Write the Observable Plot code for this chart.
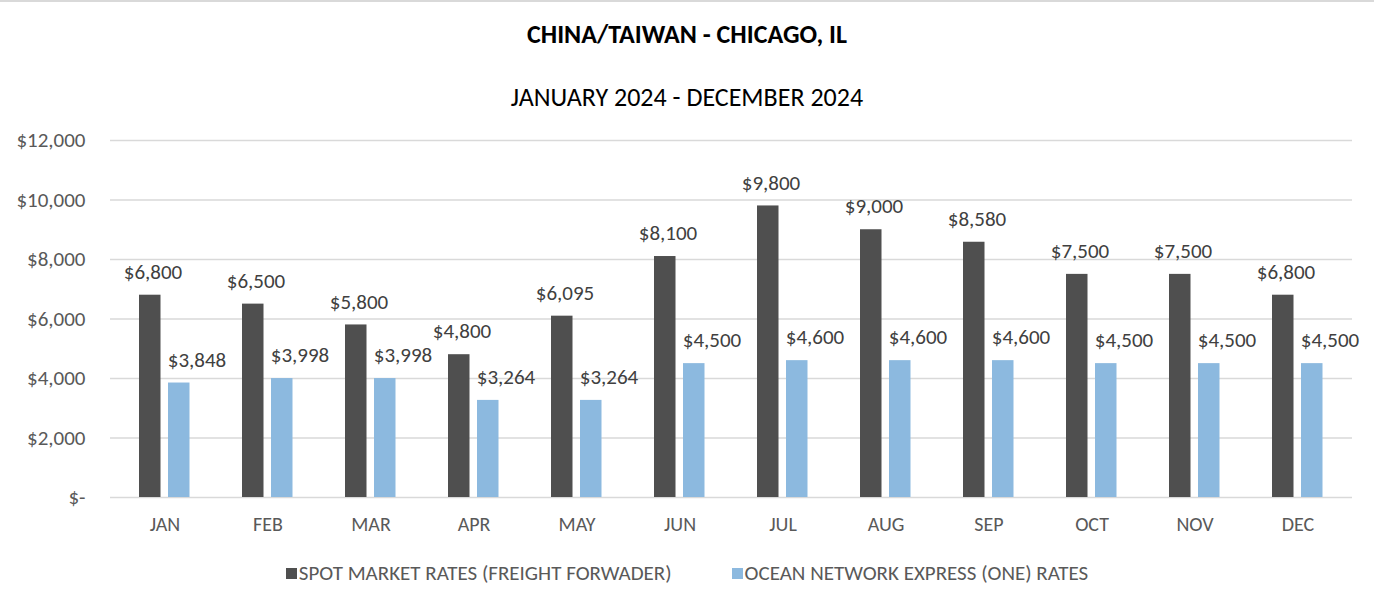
<!DOCTYPE html>
<html><head><meta charset="utf-8">
<script src="https://cdn.jsdelivr.net/npm/d3@7"></script>
<script src="https://cdn.jsdelivr.net/npm/@observablehq/plot@0.6"></script>
<style>
html,body{margin:0;padding:0;background:#fff}
body{width:1374px;height:602px;overflow:hidden;position:relative;font-family:Carlito, Lato, sans-serif;border-top:2px solid #d9d9d9;box-sizing:border-box}
#title{position:absolute;top:16px;left:0;width:100%;text-align:center;font-weight:bold;font-size:26px;color:#000}
#subtitle{position:absolute;top:79px;left:0;width:100%;text-align:center;font-size:26px;color:#000}
#chart{position:absolute;top:116px;left:0}
#legend{position:absolute;top:558px;left:0;width:1374px;display:flex;justify-content:center;gap:60px;font-size:21px;color:#595959}
.item{display:flex;align-items:center}
.sw{width:11px;height:11px;margin-right:2px;display:inline-block}
</style></head>
<body>
<div id="title">CHINA/TAIWAN - CHICAGO, IL</div>
<div id="subtitle">JANUARY 2024 - DECEMBER 2024</div>
<div id="chart"></div>
<div id="legend"></div>
<script>
const months = ["JAN","FEB","MAR","APR","MAY","JUN","JUL","AUG","SEP","OCT","NOV","DEC"];
const spotRates = [6800,6500,5800,4800,6095,8100,9800,9000,8580,7500,7500,6800];
const oneRates = [3848,3998,3998,3264,3264,4500,4600,4600,4600,4500,4500,4500];
const seriesNames = ["SPOT MARKET RATES (FREIGHT FORWADER)","OCEAN NETWORK EXPRESS (ONE) RATES"];
const seriesColors = ["#4f4f4f","#8cb9df"];
const yTicks = [0,2000,4000,6000,8000,10000,12000];

const spotData = months.map((m,i)=>({month:m, series:seriesNames[0], value:spotRates[i]}));
const oneData = months.map((m,i)=>({month:m, series:seriesNames[1], value:oneRates[i]}));
const money = d3.format(",");
const fmt = v => v === 0 ? "$-" : "$" + money(v);

const chart = Plot.plot({
  width:1374, height:425,
  marginLeft:110, marginRight:22, marginTop:22, marginBottom:46,
  style:{fontFamily:"Carlito, Lato, sans-serif", background:"transparent", color:"#595959"},
  x:{domain:months, padding:0},
  y:{domain:[0,12000]},
  marks:[
    Plot.gridY(yTicks,{stroke:"#d9d9d9", strokeOpacity:1, strokeWidth:1.6}),
    Plot.axisY(yTicks,{tickSize:0, tickPadding:25, tickFormat:fmt, fontSize:21, fill:"#595959", label:null}),
    Plot.axisX({tickSize:0, tickPadding:19, fontSize:20, fill:"#595959", label:null}),
    Plot.barY(spotData,{x:"month", y:"value", fill:seriesColors[0], insetLeft:26, insetRight:55.5}),
    Plot.barY(oneData,{x:"month", y:"value", fill:seriesColors[1], insetLeft:55, insetRight:26.5}),
    Plot.text(spotData,{x:"month", y:"value", text:d=>fmt(d.value), dx:-12, dy:-23, fontSize:21, fill:"#404040"}),
    Plot.text(oneData,{x:"month", y:"value", text:d=>fmt(d.value), dx:32, dy:-23, fontSize:21, fill:"#404040"})
  ]
});
document.getElementById("chart").appendChild(chart);

const legend = document.getElementById("legend");
seriesNames.forEach((n,i)=>{
  const it = document.createElement("div"); it.className="item";
  const sw = document.createElement("span"); sw.className="sw"; sw.style.background=seriesColors[i];
  const tx = document.createElement("span"); tx.textContent=n;
  it.appendChild(sw); it.appendChild(tx); legend.appendChild(it);
});
</script>
</body></html>
